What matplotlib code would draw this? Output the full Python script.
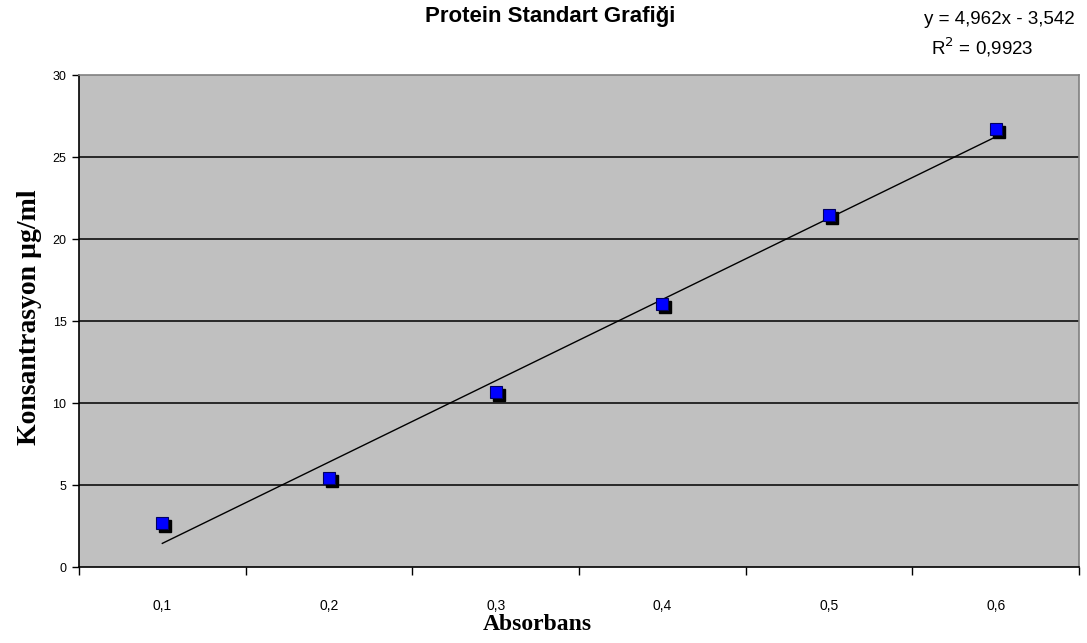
import matplotlib
matplotlib.use("Agg")
import matplotlib.pyplot as plt
import matplotlib.transforms as mtransforms
import numpy as np

categories = ["0,1", "0,2", "0,3", "0,4", "0,5", "0,6"]
concentration = [2.7, 5.4, 10.7, 16.05, 21.45, 26.7]
y_ticks = [0, 5, 10, 15, 20, 25, 30]
title = "Protein Standart Grafiği"
equation = "y = 4,962x - 3,542"
r2_text = "R$^2$ = 0,9923"

fig = plt.figure(figsize=(10.87, 6.43), dpi=100)
ax = fig.add_axes([79/1087, 1-567/643, (1079-79)/1087, (567-75)/643])
ax.set_facecolor("#C0C0C0")

x = np.arange(1, len(categories) + 1)

# gridlines
for v in y_ticks[1:-1]:
    ax.axhline(v, color="black", lw=1.1, zorder=1)

# trendline (linear fit on category index)
coef = np.polyfit(x, concentration, 1)
xl = np.array([x[0], x[-1]])
ax.plot(xl, np.polyval(coef, xl), color="black", lw=1.0, zorder=2)

# markers with shadow
shadow = ax.transData + mtransforms.ScaledTranslation(3/100, -3/100, fig.dpi_scale_trans)
ax.plot(x, concentration, ls="none", marker="s", ms=8.5, color="black",
        mec="black", transform=shadow, zorder=3)
ax.plot(x, concentration, ls="none", marker="s", ms=8.5, color="#0000FF",
        mec="#000060", mew=0.8, zorder=4)

ax.set_xlim(0.5, len(categories) + 0.5)
ax.set_ylim(0, 30)
ax.set_yticks(y_ticks)
ax.set_yticklabels([str(v) for v in y_ticks], fontsize=9, family="Liberation Sans")
ax.set_xticks(x)
ax.set_xticklabels(categories, fontsize=10, family="Liberation Sans")
ax.tick_params(axis="x", which="major", length=0, pad=23)
ax.set_xticks(np.arange(0.5, len(categories) + 1, 1.0), minor=True)
ax.tick_params(axis="x", which="minor", length=6, width=1, direction="out", color="black")
ax.tick_params(axis="y", length=5, width=1, direction="out", pad=4)

for s in ["left", "bottom"]:
    ax.spines[s].set_color("black")
    ax.spines[s].set_linewidth(1.2)
for s in ["top", "right"]:
    ax.spines[s].set_color("#808080")
    ax.spines[s].set_linewidth(1.2)

fig.text(550/1087, 1-22/643, title, ha="center", va="baseline", fontsize=16,
         fontweight="bold", family="Liberation Sans")
fig.text(1075/1087, 1-19/643, equation, ha="right", va="center", fontsize=13.5,
         family="Liberation Sans")
fig.text(982/1087, 1-47/643, r2_text, ha="center", va="center", fontsize=13.5,
         family="Liberation Sans")

fig.text(30/1087, 1-317/643, "Konsantrasyon µg/ml", rotation=90, ha="center",
         va="center", fontsize=20, fontweight="bold", family="Liberation Serif")
fig.text(537/1087, 1-625/643, "Absorbans", ha="center", va="center", fontsize=17,
         fontweight="bold", family="Liberation Serif")

fig.savefig("out.png", dpi=100)
